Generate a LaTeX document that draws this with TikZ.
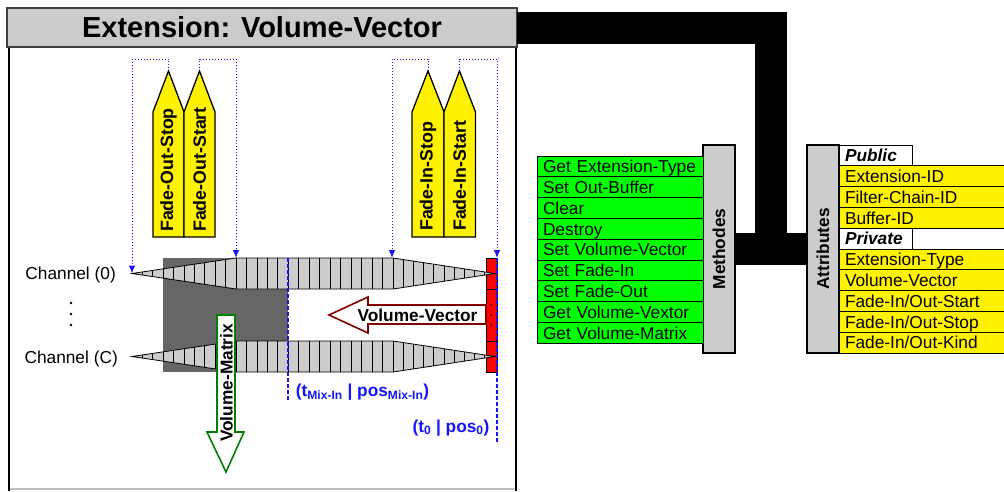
\documentclass[tikz,border=0pt]{standalone}
\usepackage{fontspec}
\setmainfont{Liberation Sans}
\usetikzlibrary{arrows.meta}
\definecolor{lgreen}{RGB}{0,255,0}
\definecolor{dred}{RGB}{128,0,0}
\definecolor{dgreen}{RGB}{0,128,0}
\definecolor{lgrey}{RGB}{204,204,204}
\definecolor{dgrey}{RGB}{102,102,102}
\definecolor{lblue}{RGB}{20,20,255}
\newcommand\drawchannel[1]{%
  \filldraw[barfill] (132,#1) -- (236,{#1-15.5}) -- (393,{#1-15.5}) -- (495,#1) -- (393,{#1+15.5}) -- (236,{#1+15.5}) -- cycle;
  \foreach \k in {1,...,9} \draw[barline] ({132+\k*10.4},{#1-1.55*\k}) -- ++(0,{3.1*\k});
  \foreach \k in {0,...,15} \draw[barline] ({236+\k*10.4667},{#1-15.5}) -- ++(0,31);
  \foreach \k in {1,...,9} \draw[barline] ({393+\k*10.2},{#1-1.55*(10-\k)}) -- ++(0,{3.1*(10-\k)});
}
\begin{document}
\begin{tikzpicture}[x=1pt,y=-1pt,
  rtxt/.style={font=\fontsize{17.3}{20}\selectfont, inner sep=0pt},
  btxt/.style={font=\bfseries\fontsize{17.3}{20}\selectfont, inner sep=0pt},
  ptxt/.style={font=\bfseries\fontsize{17.8}{20}\selectfont, inner sep=0pt},
  pentstyle/.style={draw=black, line width=1.3pt, fill=yellow, line join=miter},
  dotconn/.style={draw=lblue, dotted, line width=1pt, -{Latex[length=8pt,width=6.5pt]}},
  mixline/.style={draw=lblue, line width=1.8pt, dash pattern=on 4pt off 2pt},
  barfill/.style={draw=black, line width=0.8pt, fill=lgrey},
  barline/.style={draw=black, line width=0.8pt},
  listrow/.style={draw=black, line width=1pt, rectangle, minimum height=20.8pt, inner xsep=6pt, inner ysep=0pt, outer sep=0pt, anchor=north west, text width=154pt, align=left, text height=12.4pt, text depth=0pt, font=\fontsize{17.3}{20}\selectfont},
  methrow/.style={listrow, fill=lgreen},
  attrrow/.style={listrow, fill=yellow, text width=156pt},
  attrhead/.style={listrow, fill=white, text width=61pt, font=\bfseries\itshape\fontsize{17.3}{20}\selectfont},
  sidebar/.style={draw=black, line width=1.2pt, fill=lgrey, minimum width=32pt, minimum height=208pt, inner sep=0pt, outer sep=0pt},
  bus/.style={draw=black, line width=32pt},
  bigarrow/.style={fill=white, line width=1.6pt, line join=miter},
]
\useasboundingbox (0,0) rectangle (1004,491);

% left panel frame
\draw[black!25, line width=1.5pt] (9,489) -- (516,489);
\draw[black, line width=1.8pt] (9,47) -- (9,491);
\draw[black, line width=1.5pt] (516,47) -- (516,491);
\node[draw=black!75, line width=1.2pt, fill=lgrey, minimum width=510pt, minimum height=39pt, inner sep=0pt, outer sep=0pt, font=\bfseries\fontsize{29}{34}\selectfont] (title) at (262,27.5) {Extension: Volume-Vector};

% methods and attributes
\node[sidebar] (meth) at (719,249) {};
\node[btxt, rotate=90] (methtxt) at (meth.center) {Methodes};
\foreach \t [count=\i from 0] in {Get Extension-Type, Set Out-Buffer, Clear, Destroy, Set Volume-Vector, Set Fade-In, Set Fade-Out, Get Volume-Vextor, Get Volume-Matrix}
  \node[methrow] (m\i) at (537,{156+\i*20.8}) {\t};

\node[sidebar] (attr) at (823,249) {};
\node[btxt, rotate=90] (attrtxt) at (attr.center) {Attributes};
\node[attrhead] (apub) at (839,145) {Public};
\foreach \t [count=\i from 1] in {Extension-ID, Filter-Chain-ID, Buffer-ID}
  \node[attrrow] (a\i) at (839,{145+\i*20.8}) {\t};
\node[attrhead] (apriv) at (839,{145+4*20.8}) {Private};
\foreach \t [count=\i from 5] in {Extension-Type, Volume-Vector, Fade-In/Out-Start, Fade-In/Out-Stop, Fade-In/Out-Kind}
  \node[attrrow] (a\i) at (839,{145+\i*20.8}) {\t};

% bus connectors
\coordinate (busj) at (771,249);
\draw[bus] (title.east) -| (busj);
\draw[bus] (meth.east) -- (attr.west);

% channels
\fill[dgrey] (163,258) rectangle (288,372);
\filldraw[draw=black, line width=0.8pt, fill=red] (486,258) rectangle (497,372);
\draw[black, line width=0.8pt] (486,289) -- (497,289) (486,341) -- (497,341);
\foreach \yy in {305,315,325} \fill[black] (491,\yy) circle (0.8pt);
\drawchannel{273.5}
\drawchannel{356.5}
\coordinate (ch0tip) at (132,273.5);
\coordinate (ch0full) at (236,258);
\coordinate (ch0fade) at (392,258);
\coordinate (ch0end) at (497,258);

\node[rtxt, anchor=east, text height=12.4pt, text depth=0pt] (lab0) at (116,273) {Channel (0)};
\node[rtxt, anchor=east, text height=12.4pt, text depth=0pt] (labC) at (118,357) {Channel (C)};
\foreach \yy in {303,314,325} \fill[black] (71,\yy) circle (1.4pt);

% blue position lines
\draw[mixline] (288,258) -- (288,400);
\draw[mixline] (497,258) -- (497,442);
\node[font=\bfseries\fontsize{17.3}{20}\selectfont, text=lblue, inner sep=0pt] (tmix) at (362.5,392) {(t\textsubscript{Mix-In} | pos\textsubscript{Mix-In})};
\node[font=\bfseries\fontsize{17.3}{20}\selectfont, text=lblue, inner sep=0pt] (tzero) at (451,428) {(t\textsubscript{0} | pos\textsubscript{0})};

% Volume-Vector arrow
\draw[bigarrow, draw=dred] (329,315) -- (368,297) -- (368,305) -- (486,305) -- (486,324) -- (368,324) -- (368,333) -- cycle;
\node[btxt] (vvtxt) at (417.5,315) {Volume-Vector};

% Volume-Matrix arrow
\draw[bigarrow, draw=dgreen] (217,315) -- (235,315) -- (235,432) -- (244,432) -- (226,472) -- (207,432) -- (217,432) -- cycle;
\node[btxt, rotate=90] (vmtxt) at (226.5,383) {Volume-Matrix};

% fade markers
\filldraw[pentstyle] (153,237) -- (153,112) -- (168.5,71) -- (184,112) -- (184,237) -- cycle;
\filldraw[pentstyle] (184,237) -- (184,112) -- (199.5,71) -- (215,112) -- (215,237) -- cycle;
\filldraw[pentstyle] (412,237) -- (412,112) -- (428,71) -- (444,112) -- (444,237) -- cycle;
\filldraw[pentstyle] (444,237) -- (444,112) -- (459.5,71) -- (475.5,112) -- (475.5,237) -- cycle;
\coordinate (fosTip) at (168.5,71);
\coordinate (fostTip) at (199.5,71);
\coordinate (fisTip) at (428,71);
\coordinate (fistTip) at (459.5,71);
\node[ptxt, rotate=90, anchor=west] (fos) at (168.5,232) {Fade-Out-Stop};
\node[ptxt, rotate=90, anchor=west] (fost) at (199.5,232) {Fade-Out-Start};
\node[ptxt, rotate=90, anchor=west] (fis) at (428,231) {Fade-In-Stop};
\node[ptxt, rotate=90, anchor=west] (fist) at (459.5,231) {Fade-In-Start};

\draw[dotconn] (fosTip) -- ++(0,-12) -| (ch0tip);
\draw[dotconn] (fostTip) -- ++(0,-12) -| (ch0full);
\draw[dotconn] (fisTip) -- ++(0,-12) -| (ch0fade);
\draw[dotconn] (fistTip) -- ++(0,-12) -| (ch0end);
\end{tikzpicture}
\end{document}
